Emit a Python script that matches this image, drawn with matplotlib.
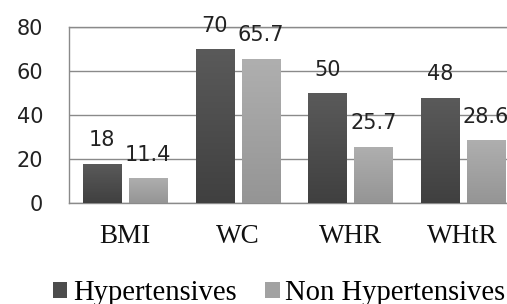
import numpy as np
import matplotlib
matplotlib.use("Agg")
import matplotlib.pyplot as plt
from matplotlib.colors import LinearSegmentedColormap
from matplotlib.font_manager import FontProperties

categories = ["BMI", "WC", "WHR", "WHtR"]
hyper = [18, 70, 50, 48]
non_hyper = [11.4, 65.7, 25.7, 28.6]
hyper_labels = ["18", "70", "50", "48"]
non_hyper_labels = ["11.4", "65.7", "25.7", "28.6"]
yticks = [0, 20, 40, 60, 80]

fig = plt.figure(figsize=(5.07, 3.04), dpi=100)
ax = fig.add_axes([0.1361, 0.3306, 1.0237 - 0.1361, 0.9112 - 0.3306])

x = np.arange(len(categories))
w = 0.34
off = 0.205
b1 = ax.bar(x - off, hyper, w, color="#4c4c4c", label="Hypertensives", zorder=3)
b2 = ax.bar(x + off, non_hyper, w, color="#a2a2a2", label="Non Hypertensives", zorder=3)

# vertical gradient on bars (darker toward bottom)
grad = np.linspace(0, 1, 64).reshape(-1, 1)
cm_dark = LinearSegmentedColormap.from_list("d", ["#5a5a5a", "#404040"])
cm_light = LinearSegmentedColormap.from_list("l", ["#afafaf", "#959595"])
for bars, cm in ((b1, cm_dark), (b2, cm_light)):
    for p in bars:
        x0, y0 = p.get_x(), p.get_y()
        im = ax.imshow(grad, cmap=cm, aspect="auto", zorder=3.5,
                       extent=[x0, x0 + p.get_width(), y0, y0 + p.get_height()],
                       origin="upper")
        im.set_clip_path(p)

serif = FontProperties(family="Liberation Serif", size=19.5)
leg_font = FontProperties(family="Liberation Serif", size=20.6)

ax.set_xlim(-0.5, len(categories) - 0.5)
ax.set_ylim(0, 80)
ax.set_yticks(yticks)
ax.set_yticklabels([str(t) for t in yticks], fontsize=15, family="DejaVu Sans",
                   color="#222222")
ax.set_xticks(x)
ax.set_xticklabels(categories, fontproperties=serif, color="#111111")
ax.tick_params(axis="y", length=0, pad=18.5)
ax.tick_params(axis="x", length=0, pad=15)
ax.grid(axis="y", color="#8a8a8a", linewidth=1, zorder=0)
for s in ax.spines.values():
    s.set_color("#8a8a8a")
    s.set_linewidth(1)

for bars, labs in ((b1, hyper_labels), (b2, non_hyper_labels)):
    for p, t in zip(bars, labs):
        ax.annotate(t, (p.get_x() + p.get_width() / 2, p.get_height()),
                    xytext=(0, 12.5), textcoords="offset points",
                    ha="center", va="baseline", fontsize=15,
                    family="DejaVu Sans", color="#222222", zorder=5)

fig.legend(handles=[b1, b2], loc="center left", bbox_to_anchor=(0.1045, 0.036),
           ncol=2, frameon=False, borderpad=0, borderaxespad=0,
           handlelength=0.5, handleheight=0.5, handletextpad=0.2,
           columnspacing=1.0, prop=leg_font)

fig.savefig("out.png", dpi=100)
